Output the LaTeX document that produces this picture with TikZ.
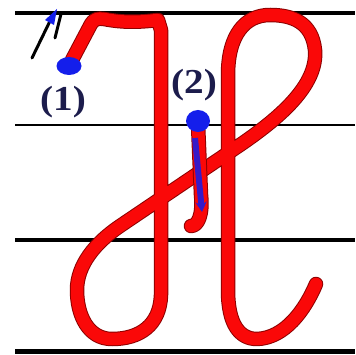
\documentclass[tikz,border=0pt]{standalone}
\usepackage{fontspec}
\setmainfont{Liberation Serif}
\usetikzlibrary{arrows.meta,shapes.geometric}
\definecolor{inkred}{RGB}{250,8,8}
\definecolor{inkblue}{RGB}{20,30,235}
\definecolor{labelnavy}{RGB}{28,28,76}
\begin{document}
\begin{tikzpicture}[x=1pt,y=-1pt,
  ruleline/.style={black,line width=#1},
  edge/.style={red!55!black,line width=14.5pt,line cap=round,line join=round},
  redstroke/.style={inkred,line width=12.5pt,line cap=round,line join=round},
  bluedot/.style={fill=inkblue,draw=none,ellipse,inner sep=0pt},
  pen/.style={black,line width=3pt,line cap=round},
  lbl/.style={text=labelnavy,font=\fontsize{35}{35}\selectfont\bfseries,xscale=1.12,inner sep=0pt}]
\useasboundingbox (0,0) rectangle (355,355);
% ruled lines
\draw[ruleline=4pt] (15,13) -- (355,13);
\draw[ruleline=1.3pt] (15,125) -- (355,125);
\draw[ruleline=4pt] (15,240) -- (355,240);
\draw[ruleline=5pt] (15,351) -- (355,351);
% stroke 1
\def\strokeone{(72,60) -- (91,24) .. controls (94,19) and (98,18) .. (104,19)
  .. controls (125,23) and (140,22) .. (158,20) -- (161,30) -- (161,295)
  .. controls (160,325) and (140,339) .. (112,339)
  .. controls (88,339) and (77,315) .. (77,290)
  .. controls (77,265) and (95,243) .. (120,226) -- (237,147)
  .. controls (280,118) and (318,85) .. (315,50)
  .. controls (312,22) and (292,15) .. (270,15)
  .. controls (245,15) and (228,35) .. (228,75) -- (228,290)
  .. controls (228,325) and (240,339) .. (257,339)
  .. controls (285,338) and (305,310) .. (316,284)}
\draw[edge] \strokeone;
\draw[redstroke] \strokeone;
% stroke 2
\def\stroketwo{(198,124) -- (201,195) .. controls (203,215) and (198,226) .. (191,226)}
\draw[edge] \stroketwo;
\draw[redstroke] \stroketwo;
\draw[inkblue!85!red,line width=6pt,-{Stealth[length=10pt,width=11pt]}] (195,138) -- (202,212);
% start dots
\node[bluedot,minimum width=25pt,minimum height=18pt] (dot1) at (69,66) {};
\node[bluedot,minimum width=24pt,minimum height=22pt] (dot2) at (198,121) {};
% labels
\node[lbl] (one) at (63,102) {(1)};
\node[lbl] (two) at (194,85) {(2)};
% direction arrow
\draw[pen] (32,58) -- (51,19);
\draw[pen] (55,38) -- (61,14);
\fill[inkblue] (45,20) -- (57,9) -- (54,25) -- cycle;
\end{tikzpicture}
\end{document}
